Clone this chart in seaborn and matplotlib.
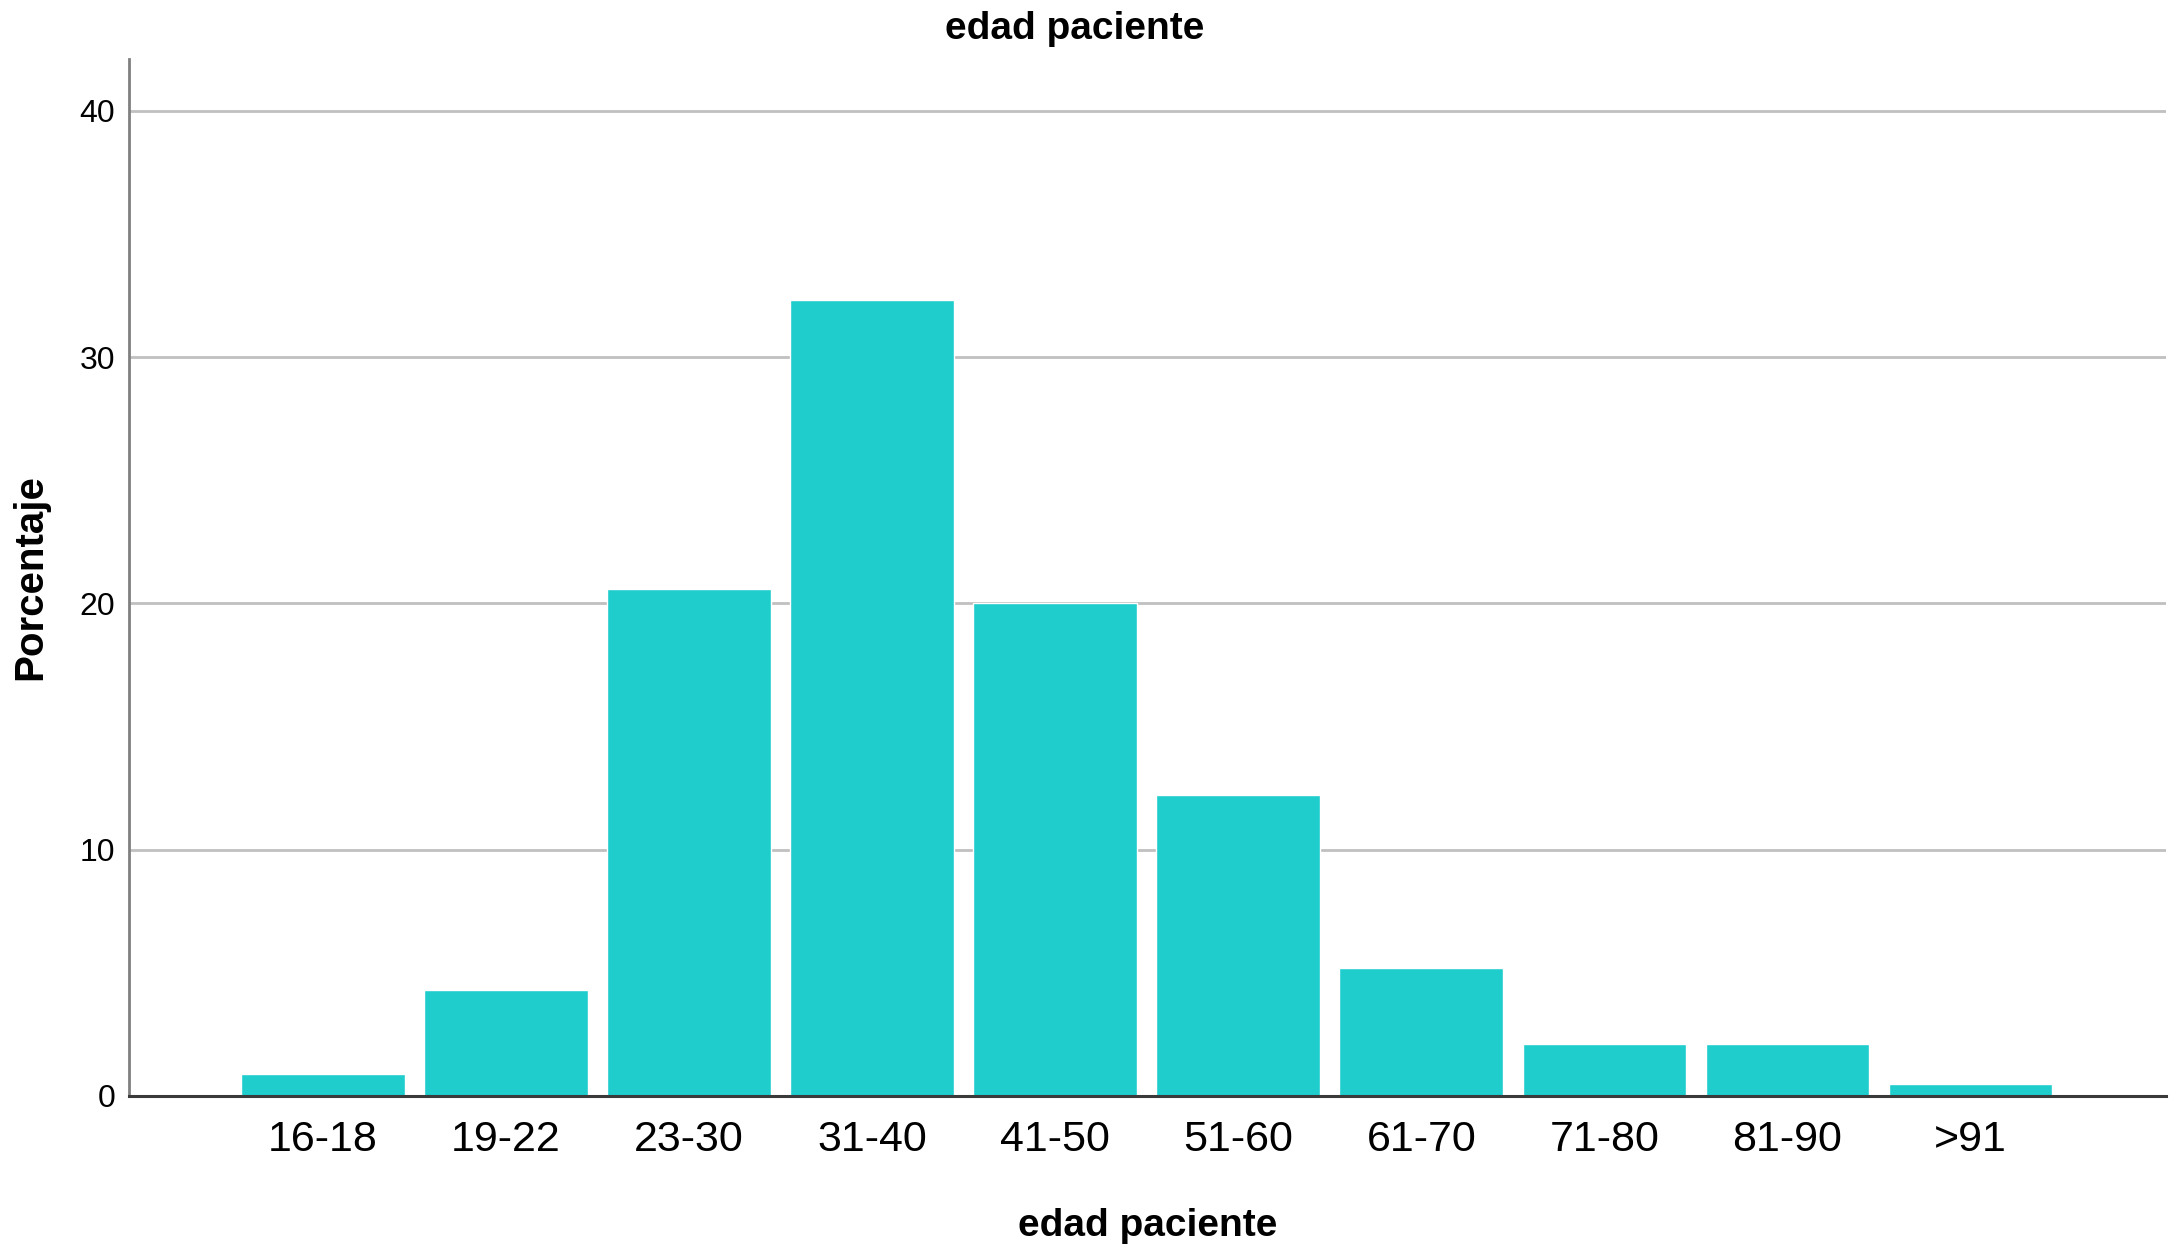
import matplotlib
matplotlib.use("Agg")
import matplotlib.pyplot as plt
import seaborn as sns
import pandas as pd

# age groups and percentage of patients
age_groups = ["16-18", "19-22", "23-30", "31-40", "41-50", "51-60", "61-70", "71-80", "81-90", ">91"]
percent = [0.9, 4.3, 20.6, 32.3, 20.0, 12.2, 5.2, 2.1, 2.1, 0.5]
y_ticks = [0, 10, 20, 30, 40]

df = pd.DataFrame({"edad": age_groups, "pct": percent})

sns.set_theme(style="white")
plt.rcParams["font.family"] = ["Liberation Sans", "DejaVu Sans"]
plt.rcParams["text.color"] = "black"
plt.rcParams["xtick.color"] = "black"
plt.rcParams["ytick.color"] = "black"
plt.rcParams["axes.labelcolor"] = "black"

fig = plt.figure(figsize=(21.75, 12.56), dpi=100)
ax = fig.add_axes([0.0593, 0.1274, 0.9367, 0.8256])

sns.barplot(data=df, x="edad", y="pct", color="#1fcdcd", saturation=1,
            width=0.894, ax=ax, zorder=2)

ax.set_xlim(-1.06, 10.07)
ax.set_ylim(0, 42.1)
ax.set_yticks(y_ticks)
ax.set_yticklabels([str(t) for t in y_ticks], fontsize=23)
ax.tick_params(axis="x", labelsize=31, length=0, pad=17)
ax.tick_params(axis="y", length=0, pad=10)

ax.yaxis.grid(True, color="#c0c0c0", linewidth=2)
ax.set_axisbelow(True)

for side in ["top", "right"]:
    ax.spines[side].set_visible(False)
ax.spines["left"].set_color("#808080")
ax.spines["left"].set_linewidth(2)
ax.spines["bottom"].set_color("#3a3a3a")
ax.spines["bottom"].set_linewidth(2.2)
ax.spines["bottom"].set_zorder(3)

ax.set_xlabel("edad paciente", fontsize=28, fontweight="bold", labelpad=35)
ax.set_ylabel("Porcentaje", fontsize=29, fontweight="bold", labelpad=22)
fig.text(0.494, 0.977, "edad paciente", fontsize=28, fontweight="bold",
         ha="center", va="center")

fig.savefig("out.png", dpi=100, facecolor="white")
